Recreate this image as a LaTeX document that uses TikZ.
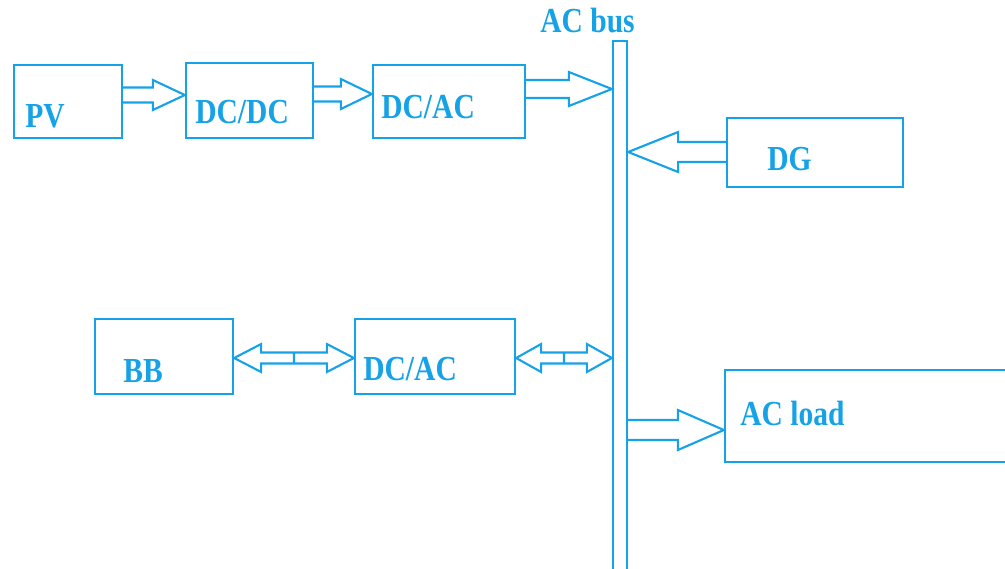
\documentclass[tikz,border=0pt]{standalone}
\usepackage{fontspec}
\setmainfont{Liberation Serif}
\newfontfamily\lblfont[FakeStretch=0.84]{Liberation Serif Bold}
\usepackage{xcolor}
\usetikzlibrary{calc}

\definecolor{busblue}{RGB}{22,162,230}

\newcommand{\fatarrow}[6]{%
  \draw[flow] let \p1=(#1), \p2=(#2) in
    (\x1,{#3cm+#5cm}) -- ({\x2-(#4cm)},{#3cm+#5cm}) -- ({\x2-(#4cm)},{#3cm+#6cm})
    -- (\x2,#3cm) -- ({\x2-(#4cm)},{#3cm-#6cm}) -- ({\x2-(#4cm)},{#3cm-#5cm})
    -- (\x1,{#3cm-#5cm});}

\newcommand{\dblarrow}[6]{%
  \draw[flow] let \p1=(#1), \p2=(#2) in
    (\x1,#3cm) -- ({\x1+#4cm},{#3cm+#6cm}) -- ({\x1+#4cm},{#3cm+#5cm})
    -- ({\x2-#4cm},{#3cm+#5cm}) -- ({\x2-#4cm},{#3cm+#6cm}) -- (\x2,#3cm)
    -- ({\x2-#4cm},{#3cm-#6cm}) -- ({\x2-#4cm},{#3cm-#5cm})
    -- ({\x1+#4cm},{#3cm-#5cm}) -- ({\x1+#4cm},{#3cm-#6cm}) -- cycle
    ({(\x1+\x2)/2},{#3cm+#5cm}) -- ({(\x1+\x2)/2},{#3cm-#5cm});}

\begin{document}
\begin{tikzpicture}[
    box/.style={rectangle, draw=busblue, line width=1.3pt, inner sep=0pt},
    lbl/.style={text=busblue, font=\lblfont\fontsize{20}{24}\selectfont, inner sep=0pt, anchor=base west},
    flow/.style={draw=busblue, line width=1.2pt, line join=miter}
]
\clip (0,0) rectangle (20.1,-11.36);

\node[box, minimum width=2.16cm, minimum height=1.46cm] (pv) at (1.36,-2.03) {};
\node[box, minimum width=2.54cm, minimum height=1.5cm] (dcdc) at (4.99,-2.01) {};
\node[box, minimum width=3.04cm, minimum height=1.46cm] (dcac) at (8.98,-2.03) {};
\node[box, minimum width=3.52cm, minimum height=1.38cm] (dg) at (16.3,-3.05) {};
\node[box, minimum width=2.76cm, minimum height=1.5cm] (bb) at (3.28,-7.13) {};
\node[box, minimum width=3.2cm, minimum height=1.5cm] (inv) at (8.7,-7.13) {};
\node[box, minimum width=6.3cm, minimum height=1.84cm] (load) at (17.65,-8.32) {};
\node[box, minimum width=0.28cm, minimum height=12cm, anchor=north] (bus) at (12.4,-0.8) {};

\node[lbl] (pvtxt) at (0.5,-2.54) {PV};
\node[lbl] (dcdctxt) at (3.9,-2.46) {DC/DC};
\node[lbl] (dcactxt) at (7.62,-2.36) {DC/AC};
\node[lbl] (dgtxt) at (15.34,-3.4) {DG};
\node[lbl] (bbtxt) at (2.46,-7.64) {BB};
\node[lbl] (invtxt) at (7.26,-7.6) {DC/AC};
\node[lbl] (loadtxt) at (14.8,-8.5) {AC load};
\node[lbl] (bustxt) at (10.8,-0.64) {AC bus};

\fatarrow{pv.east}{dcdc.west}{-1.9}{0.64}{0.15}{0.3}
\fatarrow{dcdc.east}{dcac.west}{-1.88}{0.62}{0.15}{0.3}
\fatarrow{dcac.east}{bus.west}{-1.78}{0.86}{0.18}{0.34}
\fatarrow{dg.west}{bus.east}{-3.04}{-1.0}{0.2}{0.4}
\fatarrow{bus.east}{load.west}{-8.6}{0.92}{0.2}{0.4}
\dblarrow{bb.east}{inv.west}{-7.16}{0.54}{0.11}{0.28}
\dblarrow{inv.east}{bus.west}{-7.16}{0.5}{0.11}{0.28}
\end{tikzpicture}
\end{document}
